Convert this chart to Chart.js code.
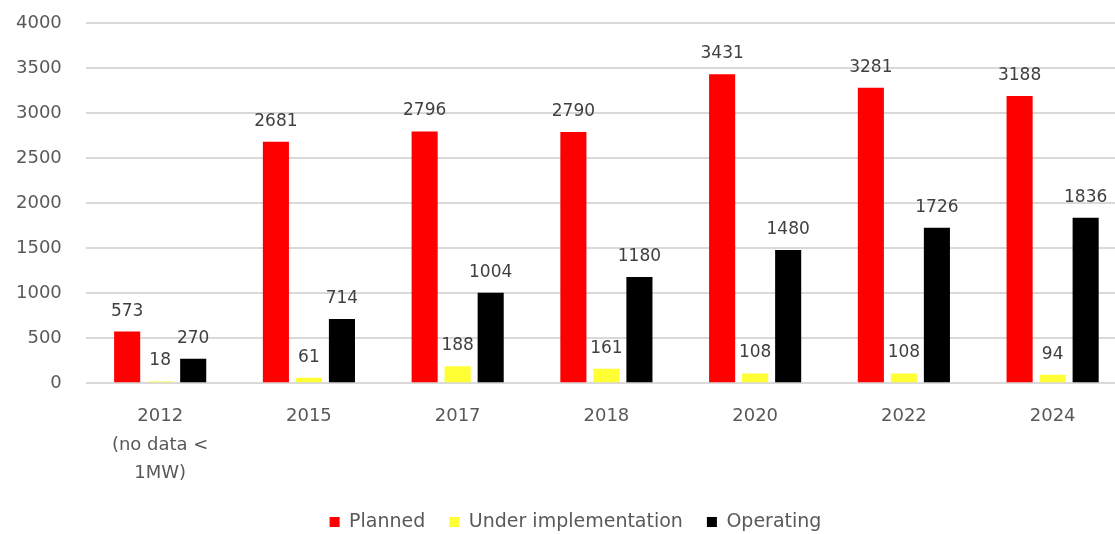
<!DOCTYPE html>
<html>
<head>
<meta charset="utf-8">
<script src="https://cdn.jsdelivr.net/npm/chart.js@4"></script>
<style>
  body { margin: 0; background: #fff; overflow: hidden; }
  #wrap { width: 1115px; height: 534px; overflow: hidden; }
</style>
</head>
<body>
<div id="wrap"><canvas id="barChart" width="1127" height="534"></canvas></div>
<script>
const categories = [['2012', '(no data <', '1MW)'], '2015', '2017', '2018', '2020', '2022', '2024'];
const planned = [573, 2681, 2796, 2790, 3431, 3281, 3188];
const underImpl = [18, 61, 188, 161, 108, 108, 94];
const operating = [270, 714, 1004, 1180, 1480, 1726, 1836];
const yTicks = [0, 500, 1000, 1500, 2000, 2500, 3000, 3500, 4000];

const textColor = '#595959';
const fontFamily = '"DejaVu Sans", sans-serif';

// draws the value above each bar
const valueLabels = {
  id: 'valueLabels',
  afterDatasetsDraw(chart) {
    const ctx = chart.ctx;
    ctx.save();
    ctx.font = '17px ' + fontFamily;
    ctx.fillStyle = '#404040';
    ctx.textAlign = 'center';
    ctx.textBaseline = 'bottom';
    chart.data.datasets.forEach((ds, i) => {
      const meta = chart.getDatasetMeta(i);
      meta.data.forEach((bar, j) => {
        ctx.fillText(ds.data[j], bar.x, bar.y - 12);
      });
    });
    ctx.restore();
  }
};

// legend in the original sits a bit right of centre
const legendShift = {
  id: 'legendShift',
  afterLayout(chart) {
    chart.legend.left += 32;
  }
};

new Chart(document.getElementById('barChart'), {
  type: 'bar',
  data: {
    labels: categories,
    datasets: [
      { label: 'Planned', data: planned, backgroundColor: '#ff0000' },
      { label: 'Under implementation', data: underImpl, backgroundColor: '#ffff33' },
      { label: 'Operating', data: operating, backgroundColor: '#000000' }
    ]
  },
  options: {
    responsive: false,
    animation: false,
    layout: { padding: { top: 23, right: 0, left: -8, bottom: -7.5 } },
    datasets: { bar: { barPercentage: 0.79, categoryPercentage: 0.666 } },
    scales: {
      x: {
        grid: { display: false },
        border: { display: false },
        afterFit: (s) => { s.height -= 10; },
        ticks: { color: textColor, font: { family: fontFamily, size: 18, lineHeight: 1.58 }, padding: 11 }
      },
      y: {
        min: 0,
        max: 4000,
        afterBuildTicks: (axis) => { axis.ticks = yTicks.map(v => ({ value: v })); },
        afterFit: (s) => { s.paddingTop = 0; s.paddingBottom = 0; },
        grid: { color: '#d9d9d9', lineWidth: 2, drawTicks: false },
        border: { display: false },
        ticks: {
          color: textColor,
          font: { family: fontFamily, size: 18 },
          padding: 24,
          callback: (v) => String(v)
        }
      }
    },
    plugins: {
      legend: {
        position: 'bottom',
        labels: { boxWidth: 10, boxHeight: 10, color: textColor, font: { family: fontFamily, size: 19 }, padding: 24 }
      },
      tooltip: { enabled: false }
    }
  },
  plugins: [valueLabels, legendShift]
});
</script>
</body>
</html>
